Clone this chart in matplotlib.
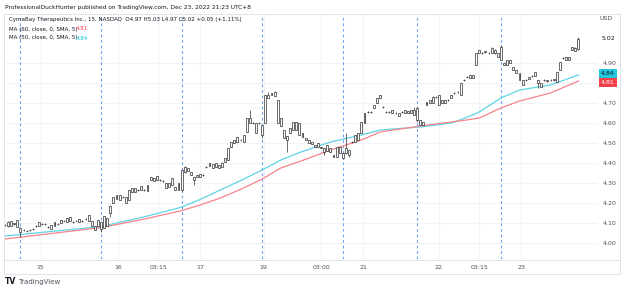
import matplotlib
matplotlib.use("Agg")
import matplotlib.pyplot as plt
from matplotlib.patches import Rectangle
from matplotlib.lines import Line2D
import matplotlib.transforms as mtransforms

# 15 min candles, CBAY, Dec 14 - Dec 23 2022
opens = [4.088, 4.087, 4.108, 4.093, 4.082, 4.074, 4.064, 4.062, 4.064, 4.069,
         4.084, 4.087, 4.094, 4.096, 4.081, 4.089, 4.087, 4.094, 4.101, 4.110,
         4.106, 4.128, 4.106, 4.110, 4.106, 4.111, 4.119, 4.112, 4.109, 4.084,
         4.087, 4.104, 4.076, 4.124, 4.151, 4.201, 4.222, 4.238, 4.229, 4.229,
         4.216, 4.256, 4.273, 4.264, 4.266, 4.266, 4.261, 4.316, 4.324, 4.316,
         4.316, 4.311, 4.299, 4.281, 4.291, 4.279, 4.266, 4.266, 4.356, 4.374,
         4.354, 4.329, 4.331, 4.332, 4.339, 4.379, 4.386, 4.394, 4.381, 4.389,
         4.381, 4.406, 4.416, 4.481, 4.514, 4.506, 4.514, 4.506, 4.556, 4.601,
         4.601, 4.599, 4.599, 4.589, 4.601, 4.726, 4.741, 4.754, 4.714, 4.624,
         4.564, 4.534, 4.551, 4.566, 4.604, 4.599, 4.549, 4.524, 4.514, 4.504,
         4.489, 4.481, 4.479, 4.474, 4.461, 4.474, 4.439, 4.431, 4.479, 4.449,
         4.451, 4.464, 4.504, 4.506, 4.516, 4.551, 4.601, 4.654, 4.656, 4.676,
         4.701, 4.726, 4.681, 4.656, 4.654, 4.651, 4.651, 4.649, 4.654, 4.651,
         4.659, 4.651, 4.664, 4.674, 4.614, 4.604, 4.691, 4.701, 4.701, 4.729,
         4.739, 4.701, 4.714, 4.714, 4.726, 4.749, 4.754, 4.741, 4.814, 4.829,
         4.826, 4.839, 4.891, 4.951, 4.951, 4.954, 4.951, 4.951, 4.966, 4.949,
         4.916, 4.899, 4.891, 4.914, 4.879, 4.864, 4.849, 4.814, 4.814, 4.821,
         4.834, 4.836, 4.814, 4.799, 4.814, 4.809, 4.814, 4.814, 4.806, 4.866,
         4.924, 4.916, 4.929, 4.966, 4.976, 4.970]
highs = [4.097, 4.108, 4.112, 4.101, 4.117, 4.078, 4.069, 4.064, 4.068, 4.073,
         4.089, 4.107, 4.098, 4.098, 4.083, 4.092, 4.106, 4.098, 4.117, 4.114,
         4.127, 4.131, 4.108, 4.114, 4.122, 4.113, 4.124, 4.142, 4.112, 4.087,
         4.117, 4.107, 4.137, 4.127, 4.188, 4.232, 4.242, 4.241, 4.233, 4.232,
         4.267, 4.277, 4.276, 4.268, 4.287, 4.268, 4.292, 4.332, 4.327, 4.337,
         4.318, 4.313, 4.302, 4.302, 4.327, 4.282, 4.302, 4.368, 4.383, 4.377,
         4.357, 4.332, 4.342, 4.347, 4.343, 4.384, 4.402, 4.397, 4.402, 4.392,
         4.404, 4.427, 4.477, 4.507, 4.517, 4.532, 4.518, 4.542, 4.627, 4.665,
         4.603, 4.602, 4.603, 4.592, 4.742, 4.755, 4.752, 4.760, 4.717, 4.627,
         4.567, 4.537, 4.577, 4.607, 4.607, 4.602, 4.552, 4.527, 4.517, 4.507,
         4.492, 4.502, 4.482, 4.477, 4.492, 4.477, 4.442, 4.482, 4.482, 4.452,
         4.550, 4.467, 4.509, 4.542, 4.552, 4.607, 4.652, 4.659, 4.659, 4.692,
         4.727, 4.742, 4.684, 4.659, 4.659, 4.667, 4.653, 4.652, 4.659, 4.667,
         4.662, 4.667, 4.680, 4.678, 4.617, 4.607, 4.707, 4.717, 4.735, 4.734,
         4.742, 4.717, 4.717, 4.719, 4.742, 4.754, 4.759, 4.802, 4.819, 4.834,
         4.842, 4.842, 4.952, 4.967, 4.953, 4.962, 4.953, 4.980, 4.969, 4.952,
         4.990, 4.902, 4.917, 4.917, 4.882, 4.867, 4.852, 4.817, 4.819, 4.832,
         4.839, 4.857, 4.817, 4.802, 4.819, 4.817, 4.819, 4.822, 4.857, 4.907,
         4.929, 4.932, 4.932, 4.982, 4.979, 5.030]
lows = [4.085, 4.082, 4.083, 4.090, 4.079, 4.030, 4.062, 4.057, 4.062, 4.067,
        4.082, 4.084, 4.092, 4.092, 4.077, 4.069, 4.085, 4.092, 4.099, 4.108,
        4.104, 4.109, 4.102, 4.108, 4.104, 4.107, 4.117, 4.110, 4.084, 4.063,
        4.084, 4.055, 4.074, 4.083, 4.130, 4.198, 4.219, 4.213, 4.227, 4.198,
        4.213, 4.253, 4.254, 4.262, 4.263, 4.262, 4.258, 4.313, 4.308, 4.313,
        4.312, 4.307, 4.273, 4.278, 4.288, 4.263, 4.263, 4.262, 4.352, 4.358,
        4.338, 4.290, 4.328, 4.329, 4.337, 4.377, 4.383, 4.373, 4.378, 4.373,
        4.378, 4.403, 4.413, 4.478, 4.498, 4.503, 4.512, 4.503, 4.553, 4.598,
        4.597, 4.548, 4.597, 4.525, 4.598, 4.723, 4.738, 4.733, 4.598, 4.583,
        4.523, 4.455, 4.548, 4.563, 4.563, 4.538, 4.528, 4.513, 4.498, 4.493,
        4.478, 4.478, 4.473, 4.440, 4.458, 4.453, 4.428, 4.428, 4.448, 4.420,
        4.445, 4.430, 4.502, 4.503, 4.513, 4.548, 4.598, 4.652, 4.651, 4.673,
        4.698, 4.723, 4.676, 4.651, 4.652, 4.648, 4.647, 4.633, 4.652, 4.648,
        4.648, 4.648, 4.638, 4.605, 4.588, 4.588, 4.688, 4.698, 4.698, 4.727,
        4.688, 4.698, 4.698, 4.712, 4.723, 4.747, 4.752, 4.738, 4.812, 4.827,
        4.823, 4.823, 4.888, 4.948, 4.947, 4.951, 4.947, 4.948, 4.946, 4.928,
        4.913, 4.888, 4.888, 4.898, 4.863, 4.848, 4.813, 4.788, 4.812, 4.818,
        4.832, 4.833, 4.775, 4.778, 4.812, 4.806, 4.812, 4.811, 4.803, 4.863,
        4.922, 4.913, 4.913, 4.963, 4.958, 4.967]
closes = [4.092, 4.104, 4.086, 4.098, 4.114, 4.056, 4.066, 4.060, 4.066, 4.071,
          4.086, 4.104, 4.096, 4.094, 4.079, 4.071, 4.104, 4.096, 4.114, 4.111,
          4.124, 4.111, 4.104, 4.111, 4.119, 4.109, 4.121, 4.139, 4.087, 4.066,
          4.114, 4.072, 4.134, 4.086, 4.184, 4.229, 4.239, 4.216, 4.231, 4.201,
          4.264, 4.274, 4.257, 4.266, 4.284, 4.264, 4.289, 4.329, 4.311, 4.334,
          4.314, 4.309, 4.276, 4.299, 4.324, 4.266, 4.299, 4.364, 4.379, 4.361,
          4.341, 4.316, 4.339, 4.344, 4.341, 4.381, 4.399, 4.376, 4.399, 4.376,
          4.401, 4.424, 4.474, 4.504, 4.501, 4.529, 4.516, 4.539, 4.624, 4.624,
          4.599, 4.551, 4.601, 4.541, 4.739, 4.739, 4.749, 4.736, 4.601, 4.586,
          4.526, 4.516, 4.574, 4.604, 4.566, 4.541, 4.531, 4.516, 4.501, 4.496,
          4.481, 4.499, 4.476, 4.456, 4.489, 4.456, 4.431, 4.479, 4.451, 4.426,
          4.474, 4.441, 4.506, 4.539, 4.549, 4.604, 4.649, 4.656, 4.654, 4.689,
          4.724, 4.739, 4.679, 4.654, 4.656, 4.664, 4.649, 4.636, 4.656, 4.664,
          4.651, 4.664, 4.641, 4.616, 4.591, 4.591, 4.704, 4.714, 4.729, 4.731,
          4.691, 4.714, 4.701, 4.716, 4.739, 4.751, 4.756, 4.799, 4.816, 4.831,
          4.839, 4.826, 4.949, 4.964, 4.949, 4.959, 4.949, 4.974, 4.949, 4.931,
          4.979, 4.891, 4.914, 4.901, 4.866, 4.851, 4.816, 4.791, 4.816, 4.829,
          4.836, 4.854, 4.801, 4.781, 4.816, 4.814, 4.816, 4.819, 4.854, 4.904,
          4.926, 4.929, 4.916, 4.979, 4.961, 5.020]

# moving averages (bar position, value)
ma_pos = [0, 31, 45, 56.5, 63, 69.5, 76, 83, 89, 95.5, 105, 115, 121, 134, 144,
          148, 153, 160, 166, 176, 185]
ma50 = [4.035, 4.082, 4.131, 4.177, 4.218, 4.265, 4.312, 4.365, 4.415, 4.455,
        4.505, 4.540, 4.565, 4.580, 4.600, 4.622, 4.655, 4.725, 4.765, 4.790, 4.840]
ma60 = [4.020, 4.077, 4.120, 4.160, 4.190, 4.225, 4.268, 4.320, 4.375, 4.410,
        4.465, 4.515, 4.555, 4.585, 4.605, 4.613, 4.625, 4.675, 4.710, 4.750, 4.810]

session_starts = [5, 31, 57, 83, 109, 133, 160]
tick_pos = [11.5, 36.5, 49.5, 63, 83.5, 102, 115.5, 140, 153, 166.5]
tick_labels = ["15", "16", "03:15", "17", "19", "03:00", "21", "22", "03:15", "23"]
price_ticks = [4.00, 4.10, 4.20, 4.30, 4.40, 4.50, 4.60, 4.70, 4.80, 4.90]

W, H = 625, 291
fig = plt.figure(figsize=(W / 100, H / 100), dpi=100)
fig.patch.set_facecolor("white")

def fx(px):
    return px / W

def fy(py):
    return 1 - py / H

ax = fig.add_axes([fx(4), fy(259), fx(597) - fx(4), fy(14) - fy(259)])
ax.set_xlim(-0.3, 191)
ax.set_ylim(3.92, 5.145)

for y in price_ticks:
    ax.axhline(y, color="#f0f3fa", lw=0.8, zorder=0)
for x in tick_pos:
    ax.axvline(x, color="#f0f3fa", lw=0.8, zorder=0)
for x in session_starts:
    ax.axvline(x, color="#6ea3f3", lw=0.8, ls=(0, (2.5, 2.5)), zorder=1)

ax.plot(ma_pos, ma50, color="#5fd3e6", lw=0.9, zorder=2)
ax.plot(ma_pos, ma60, color="#f7848a", lw=0.9, zorder=2)

idx = list(range(len(closes)))
ax.vlines(idx, lows, highs, color="#303030", lw=0.5, zorder=3)
bottoms = [min(o, c) for o, c in zip(opens, closes)]
heights = [max(abs(c - o), 0.002) for o, c in zip(opens, closes)]
ax.bar(idx, heights, bottom=bottoms, width=0.62, color="white",
       edgecolor="#303030", linewidth=0.5, zorder=4)

for s in ax.spines.values():
    s.set_visible(False)
ax.set_xticks(tick_pos)
ax.set_xticklabels(tick_labels)
ax.tick_params(axis="x", length=0, pad=4, labelsize=4.5, labelcolor="#50535e")
ax.yaxis.tick_right()
ax.set_yticks(price_ticks)
ax.set_yticklabels(["%.2f" % v for v in price_ticks])
ax.tick_params(axis="y", length=0, pad=4, labelsize=4.5, labelcolor="#50535e")

# price tags on the right scale
trans = mtransforms.blended_transform_factory(ax.transAxes, ax.transData)
ax.text(1.007, closes[-1], "5.02", transform=trans, fontsize=4.5, color="#131722",
        va="center", ha="left")
ax.text(1.007, ma50[-1] + 0.006, "4.84", transform=trans, fontsize=4.5, color="#131722",
        va="center", ha="left",
        bbox=dict(boxstyle="square,pad=0.3", fc="#22c7dc", ec="none"))
ax.text(1.007, ma60[-1] - 0.006, "4.81", transform=trans, fontsize=4.5, color="white",
        va="center", ha="left",
        bbox=dict(boxstyle="square,pad=0.3", fc="#f2414d", ec="none"))

# frame and separators
fig.add_artist(Rectangle((fx(4), fy(274)), fx(620) - fx(4), fy(14) - fy(274),
                         transform=fig.transFigure, fill=False, ec="#e0e3eb", lw=0.7))
fig.add_artist(Line2D([fx(4), fx(620)], [fy(260), fy(260)], transform=fig.transFigure,
                      color="#e0e3eb", lw=0.7))

fig.text(fx(5), fy(7), "ProfessionalDuckHunter published on TradingView.com, Dec 23, 2022 21:23 UTC+8",
         fontsize=4.2, color="#131722", va="center")
fig.text(fx(600), fy(19), "USD", fontsize=4.5, color="#50535e", va="center")
fig.text(fx(9), fy(20), "CymaBay Therapeutics Inc., 15, NASDAQ  O4.97 H5.03 L4.97 C5.02 +0.05 (+1.11%)",
         fontsize=4.0, color="#131722", va="center")
fig.text(fx(9), fy(29), "MA (60, close, 0, SMA, 5)", fontsize=4.0, color="#131722", va="center")
fig.text(fx(76), fy(29), "4.81", fontsize=4.0, color="#f23645", va="center")
fig.text(fx(9), fy(38), "MA (50, close, 0, SMA, 5)", fontsize=4.0, color="#131722", va="center")
fig.text(fx(76), fy(38), "4.84", fontsize=4.0, color="#00bcd4", va="center")
fig.text(fx(5), fy(282), "TV", fontsize=5.5, color="#131722", va="center", weight="bold")
fig.text(fx(18), fy(282), "TradingView", fontsize=5, color="#50535e", va="center")

fig.savefig("out.png", dpi=100, facecolor="white")
